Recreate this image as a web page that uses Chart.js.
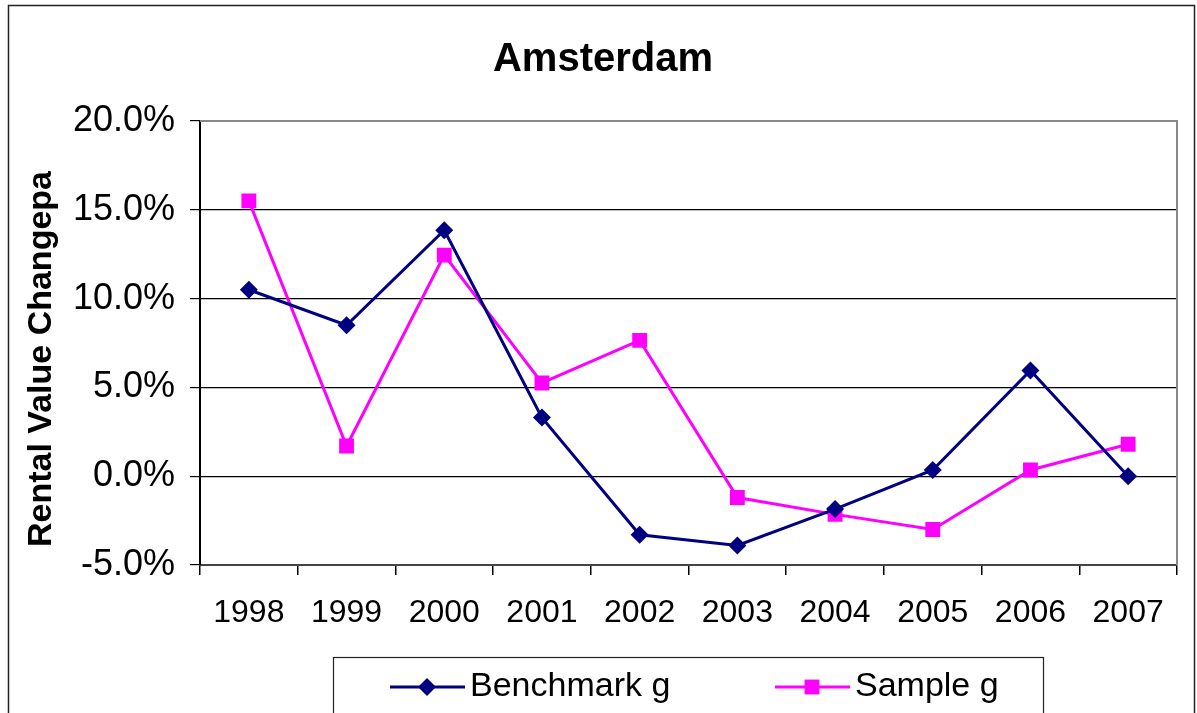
<!DOCTYPE html>
<html>
<head>
<meta charset="utf-8">
<script src="https://cdn.jsdelivr.net/npm/chart.js@4.4.1/dist/chart.umd.min.js"></script>
<style>
  html, body { margin: 0; padding: 0; background: #fff; }
  canvas { display: block; }
</style>
</head>
<body>
<canvas id="chart" width="1197" height="713"></canvas>
<script>
// ---- data ----
const years = ["1998", "1999", "2000", "2001", "2002", "2003", "2004", "2005", "2006", "2007"];
const benchmarkG = [10.5, 8.5, 13.85, 3.3, -3.3, -3.9, -1.85, 0.35, 5.95, 0.0];
const sampleG = [15.5, 1.7, 12.45, 5.25, 7.65, -1.2, -2.15, -3.0, 0.35, 1.8];
const seriesNames = ["Benchmark g", "Sample g"];
const chartTitle = "Amsterdam";
const yTitle = "Rental Value Changepa";

const FONT = "'Liberation Sans', Arial, sans-serif";

// frame round the whole chart, gray top/right edge of the plot, titles
const framePlugin = {
  id: "frame",
  beforeDatasetsDraw(chart) {
    const ctx = chart.ctx;
    const a = chart.chartArea;
    ctx.save();
    ctx.strokeStyle = "#888888";
    ctx.lineWidth = 2;
    ctx.beginPath();
    ctx.moveTo(a.left, a.top);
    ctx.lineTo(a.right, a.top);
    ctx.lineTo(a.right, a.bottom);
    ctx.stroke();
    ctx.restore();
  },
  afterDraw(chart) {
    const ctx = chart.ctx;
    ctx.save();
    ctx.strokeStyle = "#222";
    ctx.lineWidth = 1.5;
    ctx.strokeRect(8.5, 5.5, 1186, 730);

    ctx.fillStyle = "#000";
    ctx.textAlign = "center";
    ctx.textBaseline = "middle";
    ctx.font = "bold 40px " + FONT;
    ctx.fillText(chartTitle, 603, 60);

    ctx.translate(42, 359);
    ctx.rotate(-Math.PI / 2);
    ctx.font = "bold 34px " + FONT;
    ctx.fillText(yTitle, 0, 0);
    ctx.restore();
  }
};

// legend box with line + marker samples like the original
const lineLegend = {
  id: "lineLegend",
  afterDraw(chart) {
    const ctx = chart.ctx;
    ctx.save();
    ctx.strokeStyle = "#222";
    ctx.lineWidth = 1.2;
    ctx.strokeRect(333.5, 657.5, 710, 80);

    const cy = 687;
    const starts = [390, 775];
    chart.data.datasets.forEach((ds, i) => {
      const x0 = starts[i];
      ctx.strokeStyle = ds.borderColor;
      ctx.lineWidth = 3;
      ctx.beginPath();
      ctx.moveTo(x0, cy);
      ctx.lineTo(x0 + 75, cy);
      ctx.stroke();
      ctx.fillStyle = ds.pointBackgroundColor;
      Chart.helpers.drawPoint(ctx, {
        pointStyle: ds.pointStyle,
        radius: ds.pointRadius,
        borderWidth: 0
      }, x0 + 37, cy);
      ctx.fillStyle = "#000";
      ctx.font = "34px " + FONT;
      ctx.textBaseline = "middle";
      ctx.textAlign = "left";
      ctx.fillText(ds.label, x0 + 80, cy);
    });
    ctx.restore();
  }
};

new Chart(document.getElementById("chart").getContext("2d"), {
  type: "line",
  data: {
    labels: years,
    datasets: [
      {
        label: seriesNames[0],
        data: benchmarkG,
        borderColor: "#000080",
        backgroundColor: "#000080",
        pointBackgroundColor: "#000080",
        pointBorderColor: "#000080",
        pointBorderWidth: 0,
        borderWidth: 3,
        pointStyle: "rectRot",
        pointRadius: 9,
        tension: 0
      },
      {
        label: seriesNames[1],
        data: sampleG,
        borderColor: "#FF00FF",
        backgroundColor: "#FF00FF",
        pointBackgroundColor: "#FF00FF",
        pointBorderColor: "#FF00FF",
        pointBorderWidth: 0,
        borderWidth: 3,
        pointStyle: "rect",
        pointRadius: 10.5,
        tension: 0
      }
    ]
  },
  options: {
    responsive: false,
    animation: false,
    layout: { padding: { left: 0, right: 20, top: 121, bottom: 68 } },
    plugins: {
      legend: { display: false },
      tooltip: { enabled: false },
      title: { display: false }
    },
    scales: {
      x: {
        offset: true,
        grid: {
          offset: true,
          drawOnChartArea: false,
          drawTicks: true,
          tickLength: 10,
          color: "#000",
          lineWidth: 1.5
        },
        border: { display: true, color: "#444", width: 2 },
        ticks: {
          color: "#000",
          font: { family: FONT, size: 32 },
          padding: 19,
          maxRotation: 0,
          autoSkip: false
        },
        afterFit(scale) { scale.height = 80; }
      },
      y: {
        min: -5,
        max: 20,
        grid: {
          color: "#000",
          lineWidth: 1.2,
          tickLength: 10
        },
        border: { display: true, color: "#000", width: 2 },
        ticks: {
          stepSize: 5,
          color: "#000",
          font: { family: FONT, size: 36 },
          padding: 15,
          callback: (v) => v.toFixed(1) + "%"
        },
        afterFit(scale) { scale.width = 200; }
      }
    }
  },
  plugins: [framePlugin, lineLegend]
});
</script>
</body>
</html>
